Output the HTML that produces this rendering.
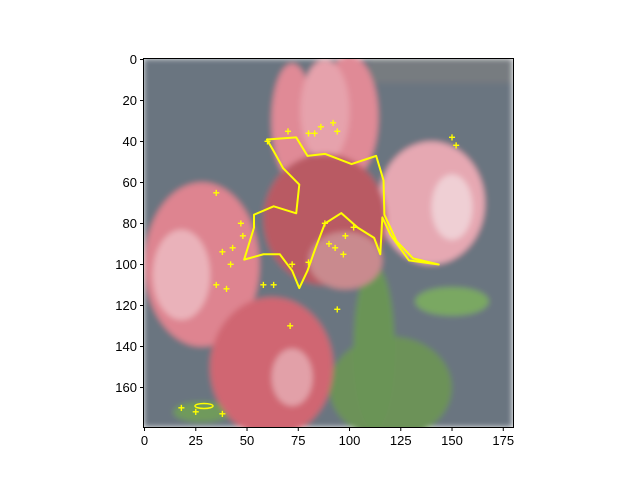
<!DOCTYPE html>
<html><head><meta charset="utf-8"><style>
body{margin:0;background:#fff;}
svg{display:block;font-family:"Liberation Sans","DejaVu Sans",sans-serif;}
</style></head><body>
<svg id="chart" width="640" height="480" viewBox="0 0 640 480">
<defs><clipPath id="clip"><rect x="143.5" y="58.5" width="370" height="369"/></clipPath>
<filter id="blur"><feGaussianBlur stdDeviation="3"/></filter></defs>
<g id="img" clip-path="url(#clip)"></g>
<g id="contour" clip-path="url(#clip)"></g>
<rect x="143.5" y="58.5" width="370" height="369" fill="none" stroke="#000" stroke-width="1"/>
<g id="xt"></g>
<g id="yt"></g>
</svg>
<script>
const xTicks=[0,25,50,75,100,125,150,175];
const yTicks=[0,20,40,60,80,100,120,140,160];
// contour points (data coords)
const contourX=[59.7,74,79.5,88,101,113,116.6,117,123,131,143.5,129,120,116,115,112,104,96,88,83.4,79.5,75.5,72,66,58,48.6,53.4,53.4,63,74,75.5,67.6,63];
const contourY=[39,38,47,46,51,47,59,75.7,88.7,97,100,98,85.5,77,95,87,82,74.9,80,92,103,111.5,103,95,95,97.6,82,75.7,71.6,75,61,53,44.7];
const markX=[152,150,94,92,86,83,80,70,60,48,38,43,35,42,47,58,63,94,98,88,90,97,102,71,80,93,72,18,38,35,40,25];
const markY=[42,38,35,31,33,36,36,35,40,86,94,92,65,100,80,110,110,122,86,80,90,95,82,130,99,92,100,170,173,110,112,172];
const S=2.05, X0=143.5, Y0=58.5;
const px=x=>X0+(x+0.5)*S, py=y=>Y0+(y+0.5)*S;
const NS="http://www.w3.org/2000/svg";
function mk(t,a,p){const e=document.createElementNS(NS,t);for(const k in a)e.setAttribute(k,a[k]);p.appendChild(e);return e;}
const img=document.getElementById('img');
img.setAttribute('filter','url(#blur)');
const shapes=[
 ['rect',{x:0,y:0,w:180,h:180},'#6a7580'],
 ['rect',{x:110,y:0,w:70,h:12},'#777b80'],
 ['ell',{cx:120,cy:160,rx:30,ry:25},'#6c9258'],
 ['ell',{cx:112,cy:140,rx:10,ry:40},'#6a9456'],
 ['ell',{cx:150,cy:118,rx:18,ry:7},'#7aa862'],
 ['ell',{cx:28,cy:172,rx:14,ry:5},'#6f9a5c'],
 ['ell',{cx:72,cy:30,rx:10,ry:28},'#e08a96'],
 ['ell',{cx:100,cy:28,rx:14,ry:30},'#e08a96'],
 ['ell',{cx:88,cy:25,rx:12,ry:25},'#e6a2ac'],
 ['ell',{cx:140,cy:70,rx:26,ry:30},'#e6a8b2'],
 ['ell',{cx:150,cy:72,rx:10,ry:16},'#efcfd4'],
 ['ell',{cx:28,cy:100,rx:28,ry:40},'#de8490'],
 ['ell',{cx:18,cy:105,rx:14,ry:22},'#eab2ba'],
 ['ell',{cx:62,cy:150,rx:30,ry:34},'#d06672'],
 ['ell',{cx:72,cy:155,rx:10,ry:14},'#e2a0a8'],
 ['ell',{cx:88,cy:78,rx:30,ry:32},'#b95a64'],
 ['ell',{cx:98,cy:98,rx:18,ry:14},'#c98a8e'],
];
shapes.forEach(s=>{
 let e;
 if(s[0]==='rect') e=mk('rect',{x:px(s[1].x-0.5),y:py(s[1].y-0.5),width:s[1].w*S,height:s[1].h*S,fill:s[2]},img);
 else e=mk('ellipse',{cx:px(s[1].cx),cy:py(s[1].cy),rx:s[1].rx*S,ry:s[1].ry*S,fill:s[2]},img);
 
 
});
const cg=document.getElementById('contour');
const pl=mk('polygon',{points:contourX.map((x,i)=>px(x)+','+py(contourY[i])).join(' '),fill:'none',stroke:'#ffff00','stroke-width':2,'stroke-linejoin':'round'},cg);


const ov=mk('ellipse',{cx:px(29),cy:py(169),rx:9,ry:2.5,fill:'none',stroke:'#ffff00','stroke-width':1.5},cg);


markX.forEach((x,i)=>{
 const t=mk('text',{x:px(x),y:py(markY[i])+4,'text-anchor':'middle','font-size':12,'font-weight':'bold',fill:'#ffff00'},cg);
 t.textContent='+';
 
 
});
const xt=document.getElementById('xt');
xTicks.forEach(v=>{
 const l=mk('line',{x1:px(v),x2:px(v),y1:427.5,y2:431,stroke:'#000'},xt);
 
 
 const t=mk('text',{x:px(v),y:445,'text-anchor':'middle','font-size':13,fill:'#000'},xt);
 t.textContent=v;
 
 
});
const yt=document.getElementById('yt');
yTicks.forEach(v=>{
 const l=mk('line',{x1:140,x2:143.5,y1:py(v),y2:py(v),stroke:'#000'},yt);
 
 
 const t=mk('text',{x:137,y:py(v)+4.5,'text-anchor':'end','font-size':13,fill:'#000'},yt);
 t.textContent=v;
 
 
});
</script>
</body></html>
